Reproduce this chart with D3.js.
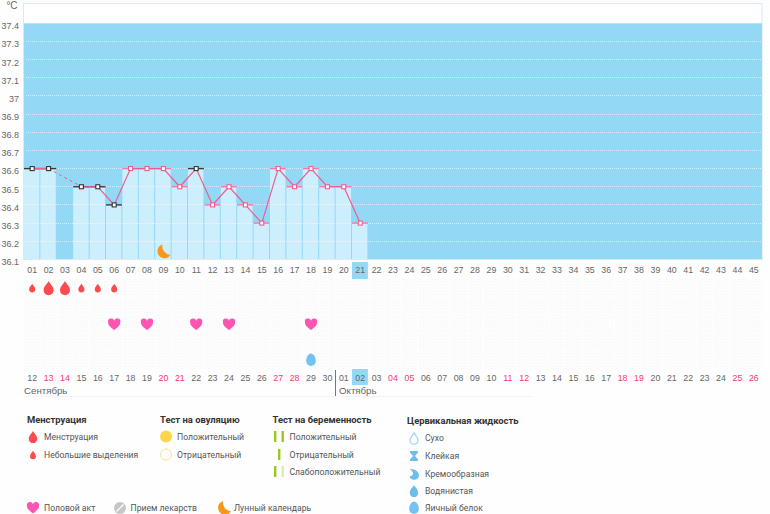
<!DOCTYPE html>
<html>
<head>
<meta charset="utf-8">
<script src="https://cdnjs.cloudflare.com/ajax/libs/d3/7.8.5/d3.min.js"></script>
<style>
html, body { margin: 0; padding: 0; background: #fefefe; overflow: hidden; }
svg { display: block; }
text { font-family: "Liberation Sans", sans-serif; }
.legend text { font-family: Roboto, sans-serif; font-size: 9.7px; fill: #555; }
.legend text.head { font-weight: 700; fill: #333; font-size: 9.8px; }
</style>
</head>
<body>
<div id="chart"></div>
<script>
var days = d3.range(1, 46);
var tempTicks = [37.4, 37.3, 37.2, 37.1, 37, 36.9, 36.8, 36.7, 36.6, 36.5, 36.4, 36.3, 36.2, 36.1];
// null = nothing measured that day
var temps = [36.6, 36.6, null, 36.5, 36.5, 36.4, 36.6, 36.6, 36.6, 36.5, 36.6, 36.4, 36.5, 36.4, 36.3, 36.6, 36.5, 36.6, 36.5, 36.5, 36.3];
var darkDays = [1, 2, 4, 5, 6, 11];
var dates = [12, 13, 14, 15, 16, 17, 18, 19, 20, 21, 22, 23, 24, 25, 26, 27, 28, 29, 30,
	1, 2, 3, 4, 5, 6, 7, 8, 9, 10, 11, 12, 13, 14, 15, 16, 17, 18, 19, 20, 21, 22, 23, 24, 25, 26];
var redDays = [2, 3, 9, 10, 16, 17, 23, 24, 30, 31, 37, 38, 44, 45];
var heavyDays = [2, 3];
var lightDays = [1, 4, 5, 6];
var loveDays = [6, 8, 11, 13, 18];
var eggWhiteDays = [18];
var moonDays = [9];
var todayDay = 21;
var markRows = ["menses", "tests", "love", "pregnancy", "fluid"];

var width = 770, height = 514;
var svg = d3.select("#chart").append("svg").attr("width", width).attr("height", height);

var x = d3.scaleBand().domain(days).range([24, 762]);
var y = d3.scaleLinear().domain([36.1, 37.4]).range([259.4, 23.3]);
var row = d3.scalePoint().domain(markRows).range([288, 360]);
var cx = function(d) { return x(d) + x.bandwidth() / 2; };

var dropPath = "M0,-7C1.2,-4.4 5,-1.6 5,2.2A5,5 0 0 1 -5,2.2C-5,-1.6 -1.2,-4.4 0,-7Z";
var heartPath = "M0,6C-3,3.6 -6,1.6 -6,-1.6A3.1,3.1 0 0 1 0,-3.2A3.1,3.1 0 0 1 6,-1.6C6,1.6 3,3.6 0,6Z";
var moonPath = "M-1,-7A7,7 0 1 0 7,3.4A9,9 0 0 1 -1,-7Z";
var eggPath = "M0,-6.4C2.8,-6.4 4.8,-2.6 4.8,1A4.8,5 0 0 1 -4.8,1C-4.8,-2.6 -2.8,-6.4 0,-6.4Z";

// plot background
svg.append("rect").attr("x", 23.5).attr("y", 3.5).attr("width", 738.5).attr("height", 256)
	.attr("fill", "#fff").attr("stroke", "#cdeefc");
svg.append("rect").attr("x", x(1)).attr("y", y(37.4)).attr("width", 738).attr("height", y(36.1) - y(37.4))
	.attr("fill", "#93d9f6");

// columns
var tempPoints = temps.map(function(t, i) { return {day: i + 1, t: t}; }).filter(function(d) { return d.t !== null; });
svg.append("g").selectAll("rect").data(tempPoints)
	.join("rect")
	.attr("x", function(d) { return x(d.day); })
	.attr("y", function(d) { return y(d.t); })
	.attr("width", x.bandwidth() - 1)
	.attr("height", function(d) { return y(36.1) - y(d.t); })
	.attr("fill", "#cdeefd");

// white dotted grid lines, snapped so they stay crisp
var gridY = function(d) { return Math.floor(y(d)) + 0.5; };
svg.append("g").selectAll("line").data(tempTicks.slice(1))
	.join("line")
	.attr("x1", x(1) + 2).attr("x2", 762)
	.attr("y1", gridY).attr("y2", gridY)
	.attr("stroke", "#fff").attr("stroke-width", 1).attr("stroke-dasharray", "1 1").attr("opacity", 0.6);

// temperature axis
var yAxis = svg.append("g").attr("transform", "translate(19,0)")
	.call(d3.axisLeft(y).tickValues(tempTicks).tickSize(0).tickPadding(0).tickFormat(function(d) { return String(d); }));
yAxis.select(".domain").remove();
yAxis.selectAll("text").attr("font-size", 9).attr("fill", "#666").attr("dy", "0.6em").style("text-anchor", "end");
svg.append("text").attr("x", 12).attr("y", 9).attr("text-anchor", "middle").attr("font-size", 10).attr("fill", "#666").text("°C");

// top day axis
svg.append("rect").attr("x", x(todayDay)).attr("y", 262).attr("width", x.bandwidth() - 0.5).attr("height", 17).attr("fill", "#93d9f6");
var dayAxis = svg.append("g").attr("transform", "translate(0,260)")
	.call(d3.axisBottom(x).tickSize(0).tickPadding(7).tickFormat(d3.format("02")));
dayAxis.select(".domain").remove();
dayAxis.selectAll("text").attr("font-size", 8.8).attr("fill", "#666");

// faint cells of the lower grid
var defs = svg.append("defs");
var pat = defs.append("pattern").attr("id", "cellDots").attr("width", 3).attr("height", 3).attr("patternUnits", "userSpaceOnUse");
pat.append("rect").attr("width", 3).attr("height", 3).attr("fill", "#fdfdfd");
pat.append("rect").attr("width", 1).attr("height", 1).attr("fill", "#f7f7f7");
pat.append("rect").attr("x", 2).attr("y", 2).attr("width", 1).attr("height", 1).attr("fill", "#f8f8f8");
var cells = svg.append("g");
markRows.forEach(function(r) {
	cells.selectAll(null).data(days).join("rect")
		.attr("x", function(d) { return x(d) + 0.5; })
		.attr("y", row(r) - 8.5)
		.attr("width", x.bandwidth() - 1)
		.attr("height", 17)
		.attr("fill", "url(#cellDots)");
});

// temperature line, dashed over the missing day
var line = d3.line().x(function(d) { return cx(d.day); }).y(function(d) { return y(d.t); });

// per day ticks
svg.append("g").selectAll("line").data(tempPoints).join("line")
	.attr("x1", function(d) { return x(d.day); })
	.attr("x2", function(d) { return x(d.day) + x.bandwidth() - 0.5; })
	.attr("y1", function(d) { return y(d.t); })
	.attr("y2", function(d) { return y(d.t); })
	.attr("stroke", function(d) { return darkDays.indexOf(d.day) >= 0 ? "#3a3a3a" : "#f47aa2"; })
	.attr("stroke-width", 1.4);

svg.append("path").datum(tempPoints.filter(function(d) { return d.day >= 4; })).attr("d", line)
	.attr("fill", "none").attr("stroke", "#ee5c8c").attr("stroke-width", 1.2);
svg.append("path").datum(tempPoints.filter(function(d) { return d.day <= 2; })).attr("d", line)
	.attr("fill", "none").attr("stroke", "#ee5c8c").attr("stroke-width", 1.4);
svg.append("path").datum(tempPoints.filter(function(d) { return d.day === 2 || d.day === 4; })).attr("d", line)
	.attr("fill", "none").attr("stroke", "#ee5c8c").attr("stroke-width", 1).attr("stroke-dasharray", "3 3");

svg.append("g").selectAll("rect").data(tempPoints).join("rect")
	.attr("x", function(d) { return cx(d.day) - 2; })
	.attr("y", function(d) { return y(d.t) - 2; })
	.attr("width", 4).attr("height", 4)
	.attr("fill", "#fff")
	.attr("stroke", function(d) { return darkDays.indexOf(d.day) >= 0 ? "#333" : "#ee5c8c"; })
	.attr("stroke-width", 1.1);

// moon on the chart
svg.append("g").selectAll("path").data(moonDays).join("path")
	.attr("d", moonPath)
	.attr("transform", function(d) { return "translate(" + cx(d) + ",251.5)"; })
	.attr("fill", "#f7981d");

// day marks
function placeMarks(list, r, path, color, scale) {
	svg.append("g").selectAll("path").data(list).join("path")
		.attr("d", path)
		.attr("transform", function(d) { return "translate(" + cx(d) + "," + row(r) + ") scale(" + scale + ")"; })
		.attr("fill", color);
}
placeMarks(heavyDays, "menses", dropPath, "#fc4b4f", 1);
placeMarks(lightDays, "menses", dropPath, "#fc4b4f", 0.62);
placeMarks(loveDays, "love", heartPath, "#fc55b4", 1);
placeMarks(eggWhiteDays, "fluid", eggPath, "#74c2f4", 1);

// date axis
svg.append("rect").attr("x", x(todayDay)).attr("y", 369).attr("width", x.bandwidth() - 0.5).attr("height", 16).attr("fill", "#93d9f6");
var dateAxis = svg.append("g").attr("transform", "translate(0,368)")
	.call(d3.axisBottom(x).tickSize(0).tickPadding(7).tickFormat(function(d) { return d3.format("02")(dates[d - 1]); }));
dateAxis.select(".domain").remove();
dateAxis.selectAll("text").attr("font-size", 8.8)
	.attr("fill", function(d) { return redDays.indexOf(d) >= 0 ? "#f5386f" : "#666"; });

svg.append("line").attr("x1", 335.5).attr("x2", 335.5).attr("y1", 370).attr("y2", 396).attr("stroke", "#777");
svg.append("line").attr("x1", 24).attr("x2", 532).attr("y1", 396.5).attr("y2", 396.5).attr("stroke", "#f3f3f3");
svg.append("text").attr("x", 24).attr("y", 394).attr("font-size", 9.7).attr("fill", "#666").text("Сентябрь");
svg.append("text").attr("x", 339).attr("y", 394).attr("font-size", 9.7).attr("fill", "#666").text("Октябрь");

// legend
var legend = svg.append("g").attr("class", "legend");
function head(t, px, py) {
	legend.append("text").attr("class", "head")
		.attr("transform", "translate(" + px + "," + py + ") scale(0.96,1)").text(t);
}
function item(t, px, py) {
	legend.append("text")
		.attr("transform", "translate(" + px + "," + py + ") scale(0.89,1)").text(t);
}
function icon(path, color, px, py, scale) {
	legend.append("path").attr("d", path).attr("fill", color)
		.attr("transform", "translate(" + px + "," + py + ") scale(" + scale + ")");
}
head("Менструация", 27, 423);
head("Тест на овуляцию", 160, 423);
head("Тест на беременность", 272.5, 423);
head("Цервикальная жидкость", 407, 424);

icon(dropPath, "#fc4b4f", 33, 437, 0.85);
icon(dropPath, "#fc4b4f", 33, 455, 0.6);
item("Менструация", 44, 440);
item("Небольшие выделения", 44, 458);

legend.append("circle").attr("cx", 166).attr("cy", 436.5).attr("r", 6).attr("fill", "#fdd54b");
legend.append("circle").attr("cx", 166).attr("cy", 454.5).attr("r", 5.5).attr("fill", "#fff").attr("stroke", "#fde08a");
item("Положительный", 177, 440);
item("Отрицательный", 177, 458);

[[274, 431, "#9ac81e"], [281.5, 431, "#9ac81e"], [278, 449, "#9ac81e"], [274, 466, "#9ac81e"], [281.5, 466, "#dcebb4"]].forEach(function(b) {
	legend.append("rect").attr("x", b[0]).attr("y", b[1]).attr("width", 2.4).attr("height", 11).attr("fill", b[2]);
});
item("Положительный", 289.5, 440);
item("Отрицательный", 289.5, 458);
item("Слабоположительный", 289.5, 475);

item("Сухо", 425, 441);
item("Клейкая", 425, 459);
item("Кремообразная", 425, 477);
item("Водянистая", 425, 494);
item("Яичный белок", 425, 511);
legend.append("path").attr("d", dropPath).attr("fill", "#fff").attr("stroke", "#93d0f3").attr("stroke-width", 1.4)
	.attr("transform", "translate(414,438.5) scale(0.8)");
legend.append("path").attr("d", "M-4,-5H4V-3.6L1,0L4,3.6V5H-4V3.6L-1,0L-4,-3.6Z").attr("fill", "#6dbdee")
	.attr("transform", "translate(414,456)");
legend.append("path").attr("d", "M-4,-5C1,-5.5 5,-2 5,1.2A4.8,4.6 0 0 1 -4.4,2.4C-2,2.4 -0.6,0.8 -1,-1C-1.4,-2.6 -3,-3.8 -4,-5Z").attr("fill", "#6dbdee")
	.attr("transform", "translate(414,474)");
icon(dropPath, "#6dbdee", 414, 491, 0.85);
icon(eggPath, "#74c2f4", 414, 508, 1);

icon(heartPath, "#fc55b4", 33, 507.5, 1);
item("Половой акт", 44, 511);
legend.append("circle").attr("cx", 120).attr("cy", 508).attr("r", 6).attr("fill", "#c6c6c6");
legend.append("line").attr("x1", 116.5).attr("y1", 511.5).attr("x2", 123.5).attr("y2", 504.5).attr("stroke", "#fff").attr("stroke-width", 1.2);
item("Прием лекарств", 130.5, 511);
icon(moonPath, "#f7981d", 224, 508, 1);
item("Лунный календарь", 234, 511);
</script>
</body>
</html>
